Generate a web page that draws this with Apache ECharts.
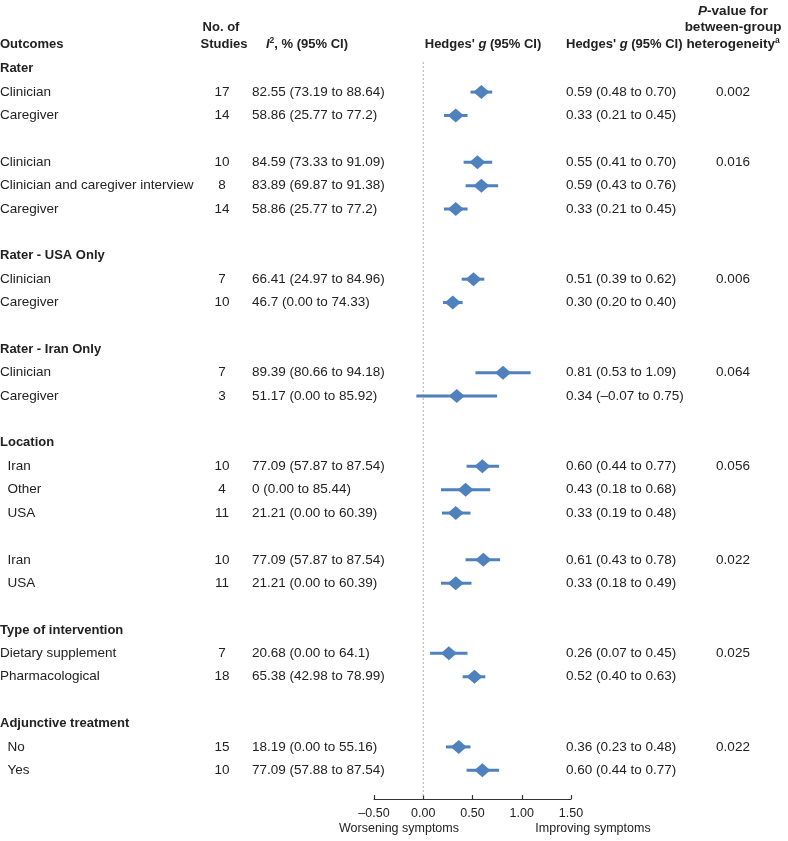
<!DOCTYPE html>
<html>
<head>
<meta charset="utf-8">
<script src="https://cdn.jsdelivr.net/npm/echarts@6/dist/echarts.min.js"></script>
<style>
html,body{margin:0;padding:0;background:#fff;}
#chart{width:788px;height:841px;}
</style>
</head>
<body>
<div id="chart"></div>
<script>
// ---- data ----
const rowLabels = ['Rater','Clinician','Caregiver','',
  'Clinician','Clinician and caregiver interview','Caregiver','',
  'Rater - USA Only','Clinician','Caregiver','',
  'Rater - Iran Only','Clinician','Caregiver','',
  'Location','  Iran','  Other','  USA','',
  '  Iran','  USA','',
  'Type of intervention','Dietary supplement','Pharmacological','',
  'Adjunctive treatment','  No','  Yes'];
const sectionRows = [0, 8, 12, 16, 24, 28];
const nStudies = [null,17,14,null, 10,8,14,null, null,7,10,null, null,7,3,null,
  null,10,4,11,null, 10,11,null, null,7,18,null, null,15,10];
const i2Text = ['','82.55 (73.19 to 88.64)','58.86 (25.77 to 77.2)','',
  '84.59 (73.33 to 91.09)','83.89 (69.87 to 91.38)','58.86 (25.77 to 77.2)','',
  '','66.41 (24.97 to 84.96)','46.7 (0.00 to 74.33)','',
  '','89.39 (80.66 to 94.18)','51.17 (0.00 to 85.92)','',
  '','77.09 (57.87 to 87.54)','0 (0.00 to 85.44)','21.21 (0.00 to 60.39)','',
  '77.09 (57.87 to 87.54)','21.21 (0.00 to 60.39)','',
  '','20.68 (0.00 to 64.1)','65.38 (42.98 to 78.99)','',
  '','18.19 (0.00 to 55.16)','77.09 (57.88 to 87.54)'];
const gEst = [null,0.59,0.33,null, 0.55,0.59,0.33,null, null,0.51,0.30,null, null,0.81,0.34,null,
  null,0.60,0.43,0.33,null, 0.61,0.33,null, null,0.26,0.52,null, null,0.36,0.60];
const gLo = [null,0.48,0.21,null, 0.41,0.43,0.21,null, null,0.39,0.20,null, null,0.53,-0.07,null,
  null,0.44,0.18,0.19,null, 0.43,0.18,null, null,0.07,0.40,null, null,0.23,0.44];
const gHi = [null,0.70,0.45,null, 0.70,0.76,0.45,null, null,0.62,0.40,null, null,1.09,0.75,null,
  null,0.77,0.68,0.48,null, 0.78,0.49,null, null,0.45,0.63,null, null,0.48,0.77];
const pValues = ['','0.002','','', '0.016','','','', '','0.006','','', '','0.064','','',
  '','0.056','','','', '0.022','','', '','0.025','','', '','0.022',''];
const xTicks = [-0.5, 0, 0.5, 1.0, 1.5];

// ---- build ----
const FONT = 'Liberation Sans, Arial, sans-serif';
const TXT = '#222';
const BLUE = '#4F81BD';
const BODY = 13.5, HEAD = 13;
const rowIdx = rowLabels.map((_, i) => i);
function fmt(v){ return (v < 0 ? '\u2013' : '') + Math.abs(v).toFixed(2); }
const forestData = [];
gEst.forEach((v, i) => { if (v !== null) forestData.push([v, i, gLo[i], gHi[i]]); });

const GL = 374, GW = 197, GT = 57, GH = 725;
const PX = 733;

function yAx(position, margin, align, formatter, rich) {
  return {
    type: 'category', gridIndex: 0, position: position, inverse: true, data: rowIdx,
    axisLine: {show: false}, axisTick: {show: false}, splitLine: {show: false},
    axisLabel: {show: true, interval: 0, margin: margin, align: align,
      fontFamily: FONT, fontSize: BODY, color: TXT, formatter: formatter, rich: rich || {}}
  };
}
function bold(sz){ return {fontFamily: FONT, fontSize: sz, fontWeight: 'bold', fill: TXT}; }
function boldIt(sz){ return {fontFamily: FONT, fontSize: sz, fontWeight: 'bold', fontStyle: 'italic', fill: TXT}; }

const chart = echarts.init(document.getElementById('chart'), null, {renderer: 'canvas'});
const option = {
  backgroundColor: '#fff',
  animation: false,
  grid: {left: GL, top: GT, width: GW, height: GH, outerBoundsMode: 'none'},
  xAxis: {
    type: 'value', min: xTicks[0], max: xTicks[xTicks.length - 1], interval: 0.5,
    position: 'bottom', offset: 17,
    axisLine: {show: true, lineStyle: {color: '#333', width: 1.2}},
    axisTick: {show: true, inside: true, length: 4, lineStyle: {color: '#333', width: 1.2}},
    splitLine: {show: false},
    axisLabel: {margin: 8, fontFamily: FONT, fontSize: 12.5, color: TXT, formatter: v => fmt(v)}
  },
  yAxis: [
    yAx('left', GL, 'left', (v, i) => sectionRows.indexOf(i) >= 0 ? '{h|' + rowLabels[i] + '}' : rowLabels[i],
      {h: {fontFamily: FONT, fontSize: HEAD, fontWeight: 'bold', color: TXT}}),
    yAx('left', GL - 222, 'center', (v, i) => nStudies[i] === null ? '' : String(nStudies[i])),
    yAx('left', GL - 252, 'left', (v, i) => i2Text[i]),
    yAx('right', -5, 'left', (v, i) => gEst[i] === null ? '' : fmt(gEst[i]) + ' (' + fmt(gLo[i]) + ' to ' + fmt(gHi[i]) + ')'),
    yAx('right', PX - (GL + GW), 'center', (v, i) => pValues[i])
  ],
  series: [
    {
      type: 'custom', xAxisIndex: 0, yAxisIndex: 0, silent: true,
      data: [[0, 0]], encode: {x: 0, y: 1},
      renderItem: function (params, api) {
        const cs = params.coordSys;
        const x = api.coord([0, 0])[0];
        return {type: 'line', shape: {x1: x, y1: cs.y + 5, x2: x, y2: cs.y + cs.height + 16},
          style: {stroke: '#b0b0b0', lineWidth: 1, lineDash: [2, 2]}};
      }
    },
    {
      type: 'custom', xAxisIndex: 0, yAxisIndex: 0, silent: true,
      data: forestData, encode: {x: [0, 2, 3], y: 1},
      renderItem: function (params, api) {
        const row = api.value(1);
        const c = api.coord([api.value(0), row]);
        const l = api.coord([api.value(2), row]);
        const r = api.coord([api.value(3), row]);
        const w = 8, h = 7;
        return {type: 'group', children: [
          {type: 'line', shape: {x1: l[0], y1: l[1], x2: r[0], y2: r[1]}, style: {stroke: BLUE, lineWidth: 3}},
          {type: 'polygon', shape: {points: [[c[0] - w, c[1]], [c[0], c[1] - h], [c[0] + w, c[1]], [c[0], c[1] + h]]},
            style: {fill: BLUE}}
        ]};
      }
    }
  ],
  graphic: [
    {type: 'text', x: 0, y: 44, style: {text: 'Outcomes', font: 'bold ' + HEAD + 'px ' + FONT, fill: TXT, align: 'left', verticalAlign: 'middle'}},
    {type: 'text', x: 221, y: 27, style: {text: 'No. of', font: 'bold ' + HEAD + 'px ' + FONT, fill: TXT, align: 'center', verticalAlign: 'middle'}},
    {type: 'text', x: 224, y: 44, style: {text: 'Studies', font: 'bold ' + HEAD + 'px ' + FONT, fill: TXT, align: 'center', verticalAlign: 'middle'}},
    {type: 'text', x: 307, y: 44, style: {text: '{i|I}{s|2}{b|, % (95% CI)}', align: 'center', verticalAlign: 'middle',
      rich: {i: Object.assign(boldIt(HEAD), {lineHeight: 16}),
             s: Object.assign(bold(8.5), {verticalAlign: 'top', lineHeight: 10}),
             b: Object.assign(bold(HEAD), {lineHeight: 16})}}},
    {type: 'text', x: 483, y: 44, style: {text: "{b|Hedges' }{i|g}{b| (95% CI)}", align: 'center', verticalAlign: 'middle',
      rich: {i: boldIt(HEAD), b: bold(HEAD)}}},
    {type: 'text', x: 566, y: 44, style: {text: "{b|Hedges' }{i|g}{b| (95% CI)}", align: 'left', verticalAlign: 'middle',
      rich: {i: boldIt(HEAD), b: bold(HEAD)}}},
    {type: 'text', x: PX, y: 11, style: {text: '{i|P}{b|-value for}', align: 'center', verticalAlign: 'middle',
      rich: {i: boldIt(13.5), b: bold(13.5)}}},
    {type: 'text', x: PX, y: 27, style: {text: 'between-group', font: 'bold 13.5px ' + FONT, fill: TXT, align: 'center', verticalAlign: 'middle'}},
    {type: 'text', x: PX, y: 44, style: {text: '{b|heterogeneity}{s|a}', align: 'center', verticalAlign: 'middle',
      rich: {b: Object.assign(bold(13.5), {lineHeight: 16}),
             s: Object.assign(bold(8.5), {verticalAlign: 'top', lineHeight: 10})}}},
    {type: 'text', x: 399, y: 829, style: {text: 'Worsening symptoms', font: '12.5px ' + FONT, fill: TXT, align: 'center', verticalAlign: 'middle'}},
    {type: 'text', x: 593, y: 829, style: {text: 'Improving symptoms', font: '12.5px ' + FONT, fill: TXT, align: 'center', verticalAlign: 'middle'}}
  ]
};
chart.setOption(option);
</script>
</body>
</html>
